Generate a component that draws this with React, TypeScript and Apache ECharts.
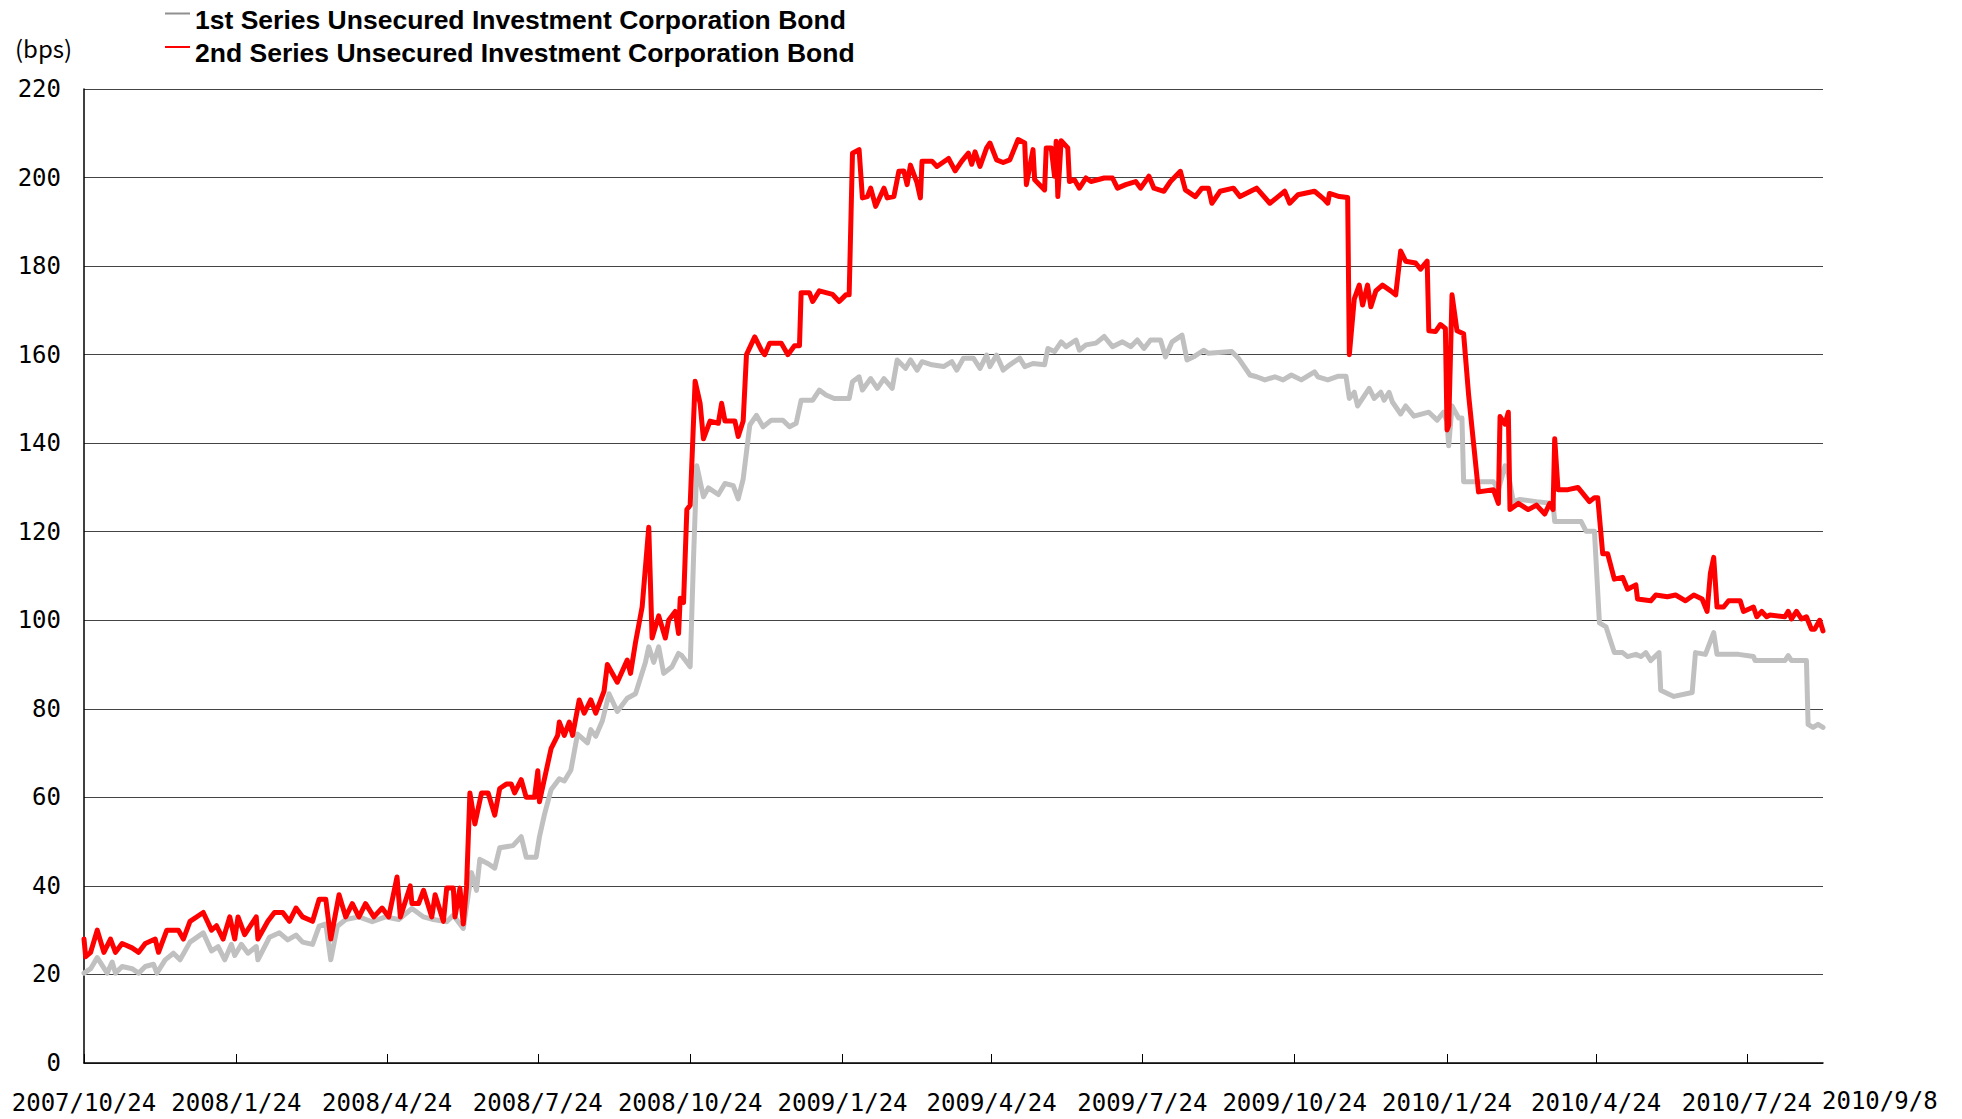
import React, { useEffect, useRef } from 'react';
import * as echarts from 'echarts';

// Day 0 = 2007/10/24; each point is [days since start, spread in bps]
const START_DATE = [2007, 9, 24];
const END_DAY = 1050; // 2010/9/8

const seriesNames = [
  '1st Series Unsecured Investment Corporation Bond',
  '2nd Series Unsecured Investment Corporation Bond',
];

const tickDates = [
  '2007/10/24', '2008/1/24', '2008/4/24', '2008/7/24', '2008/10/24', '2009/1/24',
  '2009/4/24', '2009/7/24', '2009/10/24', '2010/1/24', '2010/4/24', '2010/7/24',
];
const endLabel = '2010/9/8';

const yTicks = { min: 0, max: 220, interval: 20 };

const series1Points: [number, number][] = [
  [0, 20.3], [4, 21.3], [8, 23.8], [14, 20.3], [17, 22.8], [19, 20.3], [23, 21.8], [29, 21.3], [33, 20.3],
  [37, 21.8], [42, 22.3], [44, 20.3], [49, 23.3], [54, 24.8], [58, 23.3], [64, 27.3], [72, 29.4], [77, 25.3],
  [81, 26.3], [85, 23.3], [89, 26.8], [91, 24.3], [95, 26.8], [99, 24.8], [104, 26.3], [105, 23.3], [112, 28.4],
  [118, 29.4], [123, 27.8], [128, 28.9], [132, 27.3], [138, 26.8], [142, 30.9], [146, 31.4], [149, 23.3],
  [153, 30.9], [158, 32.4], [166, 33], [174, 31.9], [182, 33], [190, 32.4], [198, 34.9], [205, 33], [211, 32.4],
  [219, 31.9], [223, 33.4], [229, 30.4], [234, 43], [237, 39], [239, 46], [244, 45], [248, 44], [251, 48.6],
  [259, 49.1], [264, 51.1], [267, 46.5], [273, 46.5], [275, 51.1], [278, 56.1], [282, 61.7], [287, 64.2],
  [290, 63.7], [294, 66.2], [298, 74.3], [304, 72.3], [306, 75.3], [309, 73.8], [313, 77.3], [317, 83.4],
  [322, 79.4], [328, 82.4], [333, 83.4], [339, 90.5], [341, 94], [344, 90.5], [347, 94], [350, 88], [355, 89.5],
  [359, 92.5], [361, 92], [366, 89.5], [368, 113.7], [370, 134.9], [374, 127.9], [377, 129.9], [383, 128.4],
  [387, 130.9], [392, 130.4], [395, 127.4], [398, 131.9], [402, 144.1], [406, 146.3], [410, 143.7], [415, 145.2],
  [422, 145.2], [426, 143.7], [430, 144.5], [433, 149.7], [440, 149.7], [444, 152], [448, 150.9], [453, 150.1],
  [462, 150.1], [464, 153.9], [468, 155], [470, 152], [475, 154.6], [479, 152.4], [483, 154.6], [488, 152.4],
  [491, 158.8], [496, 156.9], [499, 158.8], [503, 156.5], [506, 158.4], [512, 157.7], [519, 157.3], [524, 158.4],
  [527, 156.5], [531, 159.2], [537, 159.2], [541, 156.9], [545, 159.9], [547, 157.3], [551, 159.9], [555, 156.5],
  [559, 157.7], [565, 159.2], [568, 157.3], [573, 158], [580, 157.7], [582, 161.4], [586, 160.7], [590, 162.9],
  [593, 161.8], [599, 163.3], [601, 161], [605, 162.2], [611, 162.6], [616, 164.1], [621, 161.8], [627, 162.9],
  [632, 161.8], [636, 163.3], [640, 161.4], [644, 163.3], [650, 163.3], [653, 159.5], [657, 162.9], [663, 164.4],
  [666, 158.8], [670, 159.5], [676, 161], [679, 160.3], [693, 160.7], [697, 159.2], [704, 155.4], [708, 155],
  [713, 154.3], [719, 155], [724, 154.3], [729, 155.4], [735, 154.3], [743, 156.1], [745, 155], [751, 154.3],
  [757, 155.1], [762, 155.1], [764, 150.1], [767, 151.5], [769, 148.4], [772, 150.1], [776, 152.4], [779, 150.1],
  [783, 151.5], [785, 149.7], [788, 151.5], [790, 149.3], [795, 146.6], [798, 148.4], [803, 146.1], [812, 147],
  [817, 145.2], [821, 147], [823, 144.8], [824, 139.4], [826, 148.4], [830, 145.7], [832, 145.7], [833, 131.3],
  [840, 131.3], [851, 131.3], [854, 129.5], [858, 134.9], [860, 133.1], [863, 126.8], [867, 127.3], [877, 126.8],
  [887, 126.4], [888, 122.3], [904, 122.3], [907, 120.1], [912, 120.1], [915, 99.4], [919, 98.5], [924, 92.7],
  [929, 92.7], [932, 91.8], [937, 92.3], [940, 91.8], [943, 92.7], [946, 90.9], [951, 92.7], [952, 84.2],
  [957, 83.3], [960, 82.8], [971, 83.7], [973, 92.7], [979, 92.3], [984, 97.2], [986, 92.3], [991, 92.3],
  [999, 92.3], [1008, 91.8], [1009, 90.9], [1027, 90.9], [1029, 92], [1031, 90.9], [1040, 90.9], [1041, 76.5],
  [1044, 75.8], [1047, 76.5], [1050, 75.8],
];

const series2Points: [number, number][] = [
  [0, 28], [1, 24], [4, 25], [8, 30], [12, 25], [16, 28], [19, 25], [23, 27], [29, 26], [33, 25], [37, 27],
  [43, 28], [45, 25], [50, 30], [57, 30], [60, 28], [64, 32], [72, 34], [77, 30], [80, 31], [84, 28], [88, 33],
  [91, 28], [93, 33], [97, 29], [104, 33], [105, 28], [111, 32], [115, 34], [120, 34], [124, 32], [128, 35],
  [132, 33], [138, 32], [142, 37], [146, 37], [149, 28], [154, 38], [158, 33], [162, 36], [166, 33], [170, 36],
  [175, 33], [180, 35], [184, 33], [189, 42], [191, 33], [197, 40], [198, 36], [202, 36], [205, 39], [210, 33],
  [212, 38], [217, 32], [219, 39.5], [223, 39.5], [224, 33], [227, 39.5], [229, 31.4], [231, 40], [233, 61],
  [236, 54], [240, 61], [244, 61], [248, 56], [251, 62], [255, 63], [258, 63], [260, 61], [264, 64], [267, 60],
  [272, 60], [274, 66], [275, 59], [282, 71], [286, 74], [287, 77], [290, 74], [293, 77], [295, 74], [299, 82],
  [302, 79], [306, 82], [309, 79], [314, 84], [316, 90], [322, 86], [328, 91], [330, 88], [333, 95], [337, 103],
  [341, 121], [343, 96], [347, 101], [351, 96], [353, 100], [357, 102], [359, 97], [360, 105], [362, 104],
  [364, 125], [366, 126], [369, 154], [372, 149], [374, 141], [378, 145], [383, 144.5], [385, 149], [387, 145],
  [393, 145], [395, 141.5], [398, 145], [400, 160], [405, 164], [409, 161], [411, 160], [414, 162.6],
  [421, 162.6], [425, 160], [429, 162], [432, 162], [433, 174], [438, 174], [440, 172], [444, 174.4],
  [452, 173.6], [456, 172], [460, 173.5], [462, 173.5], [464, 205.5], [468, 206.3], [470, 195.4], [473, 195.7],
  [475, 197.6], [478, 193.5], [483, 197.6], [485, 195.4], [489, 195.7], [492, 201.4], [495, 201.5], [497, 198.4],
  [499, 202.8], [503, 198.8], [505, 195.4], [506, 203.7], [512, 203.7], [515, 202.5], [522, 204.3], [526, 201.5],
  [530, 203.7], [534, 205.5], [536, 203], [538, 205.8], [541, 202.5], [545, 206.7], [547, 207.8], [551, 204],
  [555, 203.4], [559, 204], [564, 208.6], [568, 207.8], [569, 198.4], [573, 206.3], [574, 199.5], [580, 197.2],
  [581, 206.7], [584, 206.7], [586, 200.3], [587, 208.2], [588, 195.7], [590, 208.3], [594, 206.7], [595, 199.1],
  [598, 199.5], [601, 197.6], [605, 199.9], [608, 199.1], [616, 199.9], [621, 199.9], [624, 197.6], [629, 198.4],
  [635, 199.1], [638, 197.6], [643, 200.3], [646, 197.6], [652, 196.9], [656, 199.1], [662, 201.4], [665, 197.2],
  [671, 195.7], [675, 197.6], [679, 197.6], [681, 194.2], [686, 196.9], [694, 197.6], [698, 195.7], [708, 197.6],
  [716, 194.2], [721, 195.7], [725, 196.9], [728, 194.2], [733, 196.1], [743, 196.9], [749, 195], [751, 194.2],
  [752, 196.4], [758, 195.7], [763, 195.5], [764, 160], [767, 172.6], [770, 175.7], [772, 171.2], [775, 175.7],
  [777, 170.8], [780, 174.4], [784, 175.7], [789, 174.4], [792, 173.5], [795, 183.4], [798, 181.1], [804, 180.7],
  [807, 179.3], [811, 181.1], [812, 165.4], [816, 165.2], [819, 166.8], [822, 165.9], [823, 143], [824, 144],
  [826, 173.5], [829, 165.4], [833, 164.7], [836, 151], [842, 129], [851, 129.5], [854, 126.4], [855, 146],
  [858, 144.3], [860, 147], [861, 125], [866, 126.4], [872, 125], [877, 126], [882, 124], [885, 126.4], [887, 125],
  [888, 141], [890, 129.5], [896, 129.5], [902, 130], [909, 126.8], [912, 127.7], [914, 127.7], [917, 115],
  [920, 115], [924, 109.3], [929, 109.7], [932, 107], [937, 108], [938, 104.8], [946, 104.4], [949, 105.7],
  [956, 105.3], [961, 105.7], [967, 104.4], [972, 105.7], [977, 104.8], [980, 102], [982, 110.6], [984, 114.2],
  [986, 103], [990, 103], [993, 104.4], [1000, 104.4], [1002, 102], [1008, 103], [1010, 100.8], [1013, 102],
  [1016, 100.8], [1018, 101.2], [1027, 100.8], [1029, 102], [1031, 100.3], [1034, 102], [1037, 100.3],
  [1040, 100.8], [1043, 98], [1045, 98], [1048, 100], [1050, 97.6],
];

// converts a calendar date to days since the start date (x-axis unit)
const dateToDay = (s: string) => {
  const [y, m, d] = s.split('/').map(Number);
  const t0 = Date.UTC(START_DATE[0], START_DATE[1], START_DATE[2]);
  return Math.round((Date.UTC(y, m - 1, d) - t0) / 86400000);
};
const dayToLabel = (day: number) => {
  const d = new Date(Date.UTC(START_DATE[0], START_DATE[1], START_DATE[2] + Math.round(day)));
  return `${d.getUTCFullYear()}/${d.getUTCMonth() + 1}/${d.getUTCDate()}`;
};

// legend icon: a thin bar at the top of a taller (otherwise empty) box
const legendIcon = 'path://M0,0L25,0L25,2L0,2Z M0,14L25,14';

export default function App() {
  const ref = useRef<HTMLDivElement>(null);
  useEffect(() => {
    if (!ref.current) return;
    const chart = echarts.init(ref.current, null, { renderer: 'svg' });
    const tickValues = tickDates.map(dateToDay);
    const labelFont = 'DejaVu Sans Mono';
    chart.setOption({
      animation: false,
      backgroundColor: '#ffffff',
      grid: { left: 84, right: 139, top: 89, bottom: 56, containLabel: false },
      legend: {
        orient: 'vertical',
        left: 165,
        top: 6,
        padding: 0,
        itemGap: 6.5,
        itemWidth: 25,
        itemHeight: 14,
        icon: legendIcon,
        textStyle: {
          fontFamily: 'Liberation Sans',
          fontWeight: 'bold',
          fontSize: 26.5,
          color: '#000',
        },
        data: [
          { name: seriesNames[0], itemStyle: { color: '#909090' } },
          { name: seriesNames[1] },
        ],
      },
      graphic: [
        {
          type: 'text',
          left: 15,
          top: 35,
          style: { text: '(bps)', fontFamily: 'Noto Sans CJK JP', fontSize: 24, fill: '#000' },
        },
        {
          type: 'text',
          left: 1822,
          top: 1089,
          style: { text: endLabel, fontFamily: labelFont, fontSize: 24, fill: '#000' },
        },
      ],
      xAxis: {
        type: 'value',
        min: 0,
        max: END_DAY,
        axisLine: { show: true, onZero: false, lineStyle: { color: '#000', width: 1.5 } },
        axisTick: {
          show: true,
          inside: true,
          length: 9,
          customValues: tickValues,
          lineStyle: { color: '#000', width: 1 },
        },
        axisLabel: {
          customValues: tickValues,
          formatter: (v: number) => dayToLabel(v),
          fontFamily: labelFont,
          fontSize: 24,
          color: '#000',
          margin: 28,
        },
        splitLine: { show: false },
      },
      yAxis: {
        type: 'value',
        min: yTicks.min,
        max: yTicks.max,
        interval: yTicks.interval,
        axisLine: { show: true, lineStyle: { color: '#000', width: 1.5 } },
        axisTick: { show: false },
        axisLabel: { fontFamily: labelFont, fontSize: 24, color: '#000', margin: 23 },
        splitLine: { show: true, lineStyle: { color: '#444', width: 1 } },
      },
      series: [
        {
          name: seriesNames[0],
          type: 'line',
          showSymbol: false,
          symbol: 'none',
          data: series1Points,
          lineStyle: { color: '#c0c0c0', width: 5, cap: 'round', join: 'round' },
          itemStyle: { color: '#c0c0c0' },
          z: 2,
        },
        {
          name: seriesNames[1],
          type: 'line',
          showSymbol: false,
          symbol: 'none',
          data: series2Points,
          lineStyle: { color: '#ff0000', width: 5, cap: 'round', join: 'round' },
          itemStyle: { color: '#ff0000' },
          z: 3,
        },
      ],
    });
    return () => chart.dispose();
  }, []);
  return (
    <div
      ref={ref}
      style={{ position: 'fixed', left: 0, top: 0, width: 1962, height: 1119, background: '#fff' }}
    />
  );
}
